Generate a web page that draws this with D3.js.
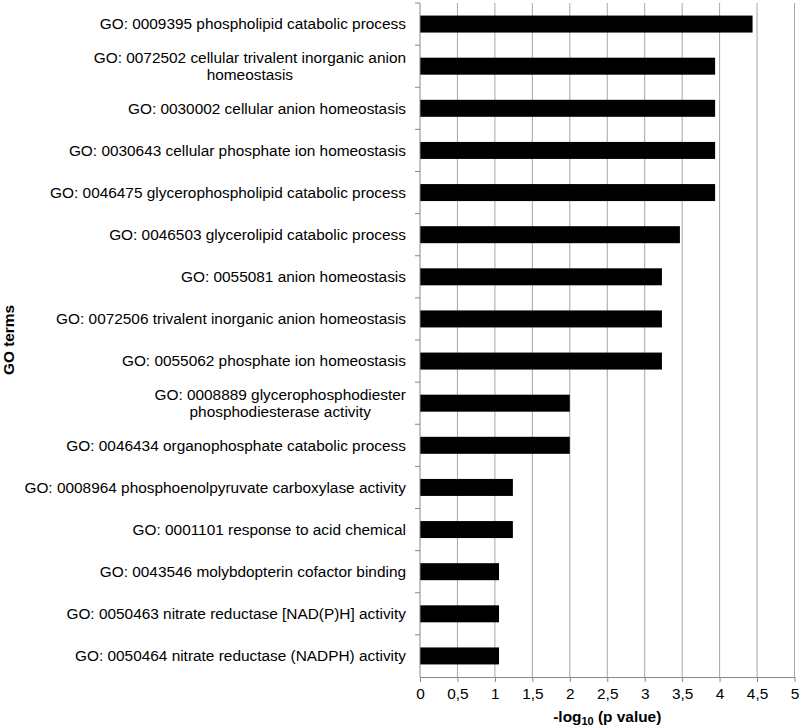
<!DOCTYPE html>
<html>
<head>
<meta charset="utf-8">
<script src="https://cdn.jsdelivr.net/npm/d3@7"></script>
<style>
  body { margin: 0; background: #fff; }
  text { font-family: "Liberation Sans", Arial, sans-serif; }
</style>
</head>
<body>
<svg id="chart" width="800" height="728"></svg>
<script>
var terms = [
	"GO: 0009395 phospholipid catabolic process",
	"GO: 0072502 cellular trivalent inorganic anion homeostasis",
	"GO: 0030002 cellular anion homeostasis",
	"GO: 0030643 cellular phosphate ion homeostasis",
	"GO: 0046475 glycerophospholipid catabolic process",
	"GO: 0046503 glycerolipid catabolic process",
	"GO: 0055081 anion homeostasis",
	"GO: 0072506 trivalent inorganic anion homeostasis",
	"GO: 0055062 phosphate ion homeostasis",
	"GO: 0008889 glycerophosphodiester phosphodiesterase activity",
	"GO: 0046434 organophosphate catabolic process",
	"GO: 0008964 phosphoenolpyruvate carboxylase activity",
	"GO: 0001101 response to acid chemical",
	"GO: 0043546 molybdopterin cofactor binding",
	"GO: 0050463 nitrate reductase [NAD(P)H] activity",
	"GO: 0050464 nitrate reductase (NADPH) activity"
]
var values = [4.44, 3.94, 3.94, 3.94, 3.94, 3.47, 3.23, 3.23, 3.23, 2.0, 2.0, 1.24, 1.24, 1.055, 1.055, 1.055]
var xTicks = [0, 0.5, 1, 1.5, 2, 2.5, 3, 3.5, 4, 4.5, 5]

var data = terms.map((t, i) => ({ term: t, value: values[i] }))

const LEFT = 420, RIGHT = 794.5, TOP = 3, BOTTOM = 677
const FS = "15.4px"
var chart = d3.select("#chart")

var x = d3.scaleLinear().domain([0, 5]).range([LEFT, RIGHT])
var yb = d3.scaleBand().domain(terms).range([TOP, BOTTOM])

// grid lines
chart.append("g").selectAll("line").data(xTicks.slice(1)).enter()
	.append("line")
	.attr("x1", d => x(d)).attr("x2", d => x(d))
	.attr("y1", TOP).attr("y2", BOTTOM)
	.attr("stroke", "#a6a6a6").attr("stroke-width", 1)

// bars
chart.append("g").selectAll("rect").data(data).enter()
	.append("rect")
	.attr("x", x(0))
	.attr("y", d => yb(d.term) + yb.bandwidth() / 2 - 8.5)
	.attr("width", d => x(d.value) - x(0))
	.attr("height", 17)
	.attr("fill", "#000")

// y axis line + ticks at category boundaries
var yAxis = chart.append("g").attr("stroke", "#888")
yAxis.append("line").attr("x1", LEFT).attr("x2", LEFT).attr("y1", TOP).attr("y2", BOTTOM)
yAxis.selectAll(".tk").data(terms).enter().append("line")
	.attr("x1", LEFT - 5).attr("x2", LEFT)
	.attr("y1", d => yb(d)).attr("y2", d => yb(d))

// x axis
var xAxis = chart.append("g").attr("transform", "translate(0," + BOTTOM + ")")
	.call(d3.axisBottom(x).tickValues(xTicks).tickSizeInner(5).tickSizeOuter(0)
		.tickFormat(d => String(d).replace(".", ",")))
xAxis.select(".domain").attr("stroke", "#888")
xAxis.selectAll(".tick line").attr("stroke", "#888")
xAxis.selectAll(".tick text")
	.attr("font-size", FS).attr("fill", "#000").attr("dy", "0.71em").attr("y", 11)
	.attr("font-family", "Liberation Sans, Arial, sans-serif")

// category labels, wrapped
var MAX_W = 385
var labels = chart.append("g").selectAll("text").data(terms).enter()
	.append("text")
	.attr("font-size", FS)
	.attr("fill", "#000")
labels.each(function (d) {
	var t = d3.select(this)
	var words = d.split(" "), lines = [], cur = ""
	var probe = t.append("tspan")
	words.forEach(w => {
		var test = cur ? cur + " " + w : w
		probe.text(test)
		if (probe.node().getComputedTextLength() > MAX_W && cur) {
			lines.push(cur)
			cur = w
		} else cur = test
	})
	lines.push(cur)
	probe.remove()
	var cy = yb(d) + yb.bandwidth() / 2
	var lh = 17
	lines.forEach((ln, i) => {
		t.append("tspan")
			.attr("x", 406)
			.attr("text-anchor", i == 0 ? "end" : "middle")
			.attr("y", cy + (i - (lines.length - 1) / 2) * lh)
			.attr("dy", "0.35em")
			.text(ln)
	})
	if (lines.length > 1) {
		// center continuation lines under first line
		var w0 = t.select("tspan").node().getComputedTextLength()
		t.selectAll("tspan").filter((_, i) => i > 0).attr("x", 406 - w0 / 2)
	}
})

// axis titles
var xt = chart.append("text")
	.attr("x", (LEFT + RIGHT) / 2)
	.attr("y", 722)
	.attr("text-anchor", "middle")
	.attr("font-size", FS)
	.attr("font-weight", "bold")
xt.append("tspan").text("-log")
xt.append("tspan").attr("font-size", "11px").attr("dy", 3).text("10")
xt.append("tspan").attr("dy", -3).text(" (p value)")

chart.append("text")
	.attr("transform", "translate(14," + 340 + ") rotate(-90)")
	.attr("text-anchor", "middle")
	.attr("font-size", FS)
	.attr("font-weight", "bold")
	.text("GO terms")
</script>
</body>
</html>
